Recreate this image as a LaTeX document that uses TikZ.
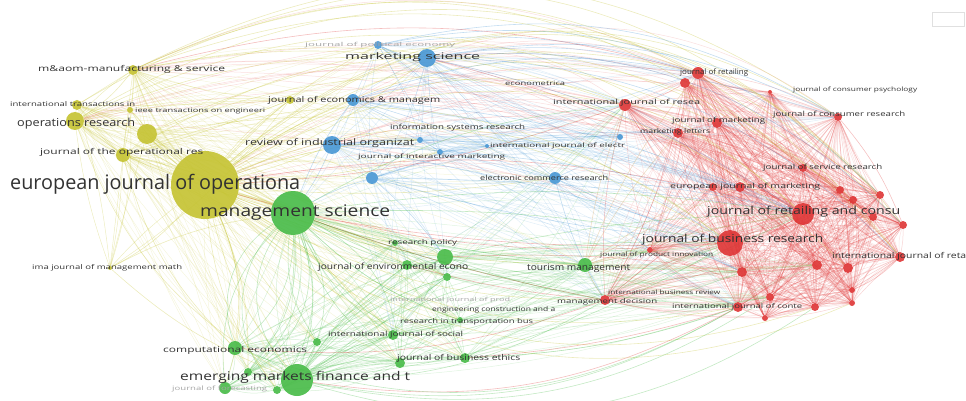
\documentclass[tikz,border=0pt]{standalone}
\usepackage{fontspec}
\usepackage{graphicx}
\setmainfont{Open Sans}
\definecolor{cy}{RGB}{196,194,48}
\definecolor{cb}{RGB}{70,150,212}
\definecolor{cr}{RGB}{222,52,52}
\definecolor{cg}{RGB}{70,186,70}
\definecolor{co}{RGB}{205,160,85}
\definecolor{txt}{RGB}{50,50,50}
\definecolor{ftxt}{RGB}{165,165,165}
\pgfdeclarelayer{bg}
\pgfsetlayers{bg,main}
\begin{document}
\begin{tikzpicture}[x=1pt,y=-1pt,
  dot/.style={circle,inner sep=0pt,draw=none,fill opacity=.9},
  lbl/.style={anchor=west,inner sep=0pt},
  e/.style={line width=.6pt,draw opacity=.32},
  em/.style={line width=.5pt,draw opacity=.16}]
\useasboundingbox (0,0) rectangle (966,401);
% ---------------- nodes
\foreach \n/\x/\y/\r in {Y1/205/185/34,Y2/133/70/5,Y3/77/105/5,Y4/130/110/3,Y5/75/121/9,Y6/147/134/10,Y7/123/155/7,Y8/290/100/4,Y9/110/268/2}
  \node[dot,fill=cy,minimum size=2pt*\r] (\n) at (\x,\y) {};
\foreach \n/\x/\y/\r in {B1/427/58/9,B2/378/45/4,B3/353/100/6,B4/332/145/9,B5/372/178/6,B6/555/178/6,B7/420/140/3,B8/620/137/3,B9/440/152/3,B10/487/146/2}
  \node[dot,fill=cb,minimum size=2pt*\r] (\n) at (\x,\y) {};
\foreach \n/\x/\y/\r in {R1/698/73/6,R2/685/83/5,R3/625/105/6,R4/717/123/5,R5/678/133/5,R6/838/117/4,R7/803/168/4,R8/740/187/5,R9/803/214/11,R10/730/243/13,R11/900/257/5,R12/605/300/5,R13/738/307/5,R14/903/225/4,R15/817/265/5,R16/848/268/5,R17/742/272/5,R18/770/297/4,R19/815/307/4,R20/852/290/3,R21/852/303/3,R22/840/190/4,R23/853/200/4,R24/880/195/4,R25/873/217/4,R26/713/187/4,R27/765/318/3,R28/650/250/3,R29/770/92/2}
  \node[dot,fill=cr,minimum size=2pt*\r] (\n) at (\x,\y) {};
\foreach \n/\x/\y/\r in {G1/293/213/22,G2/445/257/8,G3/407/265/5,G4/585/265/7,G5/235/348/7,G6/297/380/16,G7/225/388/6,G8/277/390/4,G9/248/372/4,G10/317/342/4,G11/393/335/5,G12/465/358/5,G13/400/363/5,G14/447/277/4,G15/395/243/3,G16/460/320/3}
  \node[dot,fill=cg,minimum size=2pt*\r] (\n) at (\x,\y) {};
\node[draw=black!12,line width=.6pt,minimum width=32pt,minimum height=14pt,inner sep=0pt] (logo) at (948,19) {};
% ---------------- edges
\begin{pgfonlayer}{bg}
% dense red cluster
\foreach \i in {1,...,29}{\foreach \j in {1,...,29}{\ifnum\j>\i
  \pgfmathtruncatemacro\bb{mod(\i*7+\j*11,25)-12}
  \pgfmathtruncatemacro\bc{mod(\i*13+\j*5,31)-15}
  \draw[em,cr,draw opacity=.22] (R\i) to[bend left=\bb] (R\j);
  \draw[em,cr,draw opacity=.14] (R\i) to[bend left=\bc] (R\j);\fi}}
% dense green cluster
\foreach \i in {1,...,16}{\foreach \j in {1,...,16}{\ifnum\j>\i
  \pgfmathtruncatemacro\bb{mod(\i*5+\j*13,41)-20}
  \draw[em,cg,draw opacity=.22] (G\i) to[bend left=\bb] (G\j);\fi}}
% yellow cluster
\foreach \i in {1,...,9}{\foreach \j in {1,...,9}{\ifnum\j>\i
  \pgfmathtruncatemacro\bb{mod(\i*5+\j*7,21)-10}
  \draw[em,cy,draw opacity=.3] (Y\i) to[bend left=\bb] (Y\j);\fi}}
% blue cluster
\foreach \i in {1,...,10}{\foreach \j in {1,...,10}{\ifnum\j>\i
  \pgfmathtruncatemacro\bb{mod(\i*5+\j*7,21)-10}
  \draw[em,cb,draw opacity=.22] (B\i) to[bend left=\bb] (B\j);\fi}}
% cross links
\foreach \s [count=\i] in {B1,B3,B4,B5,B6,B7,B9,B2}{\foreach \t [count=\j] in {R1,R3,R5,R8,R9,R10,R12,R13,R17,R26,R28,R6}{
  \pgfmathtruncatemacro\bb{mod(\i*7+\j*5,25)-8}
  \draw[em,cb] (\s) to[bend left=\bb] (\t);}}
\foreach \s [count=\i] in {G1,G2,G3,G4,G11,G12,G14,G16,G6}{\foreach \t [count=\j] in {R3,R9,R10,R12,R13,R17,R18,R28,R15}{
  \pgfmathtruncatemacro\bb{mod(\i*7+\j*5,21)-12}
  \draw[em,cg] (\s) to[bend left=\bb] (\t);}}
\foreach \s [count=\i] in {Y1,Y2,Y5,Y6,Y7,Y3}{\foreach \t [count=\j] in {G1,G2,G3,G4,G5,G6,G7,G8,G9,G10,G11,G12,G13,G14,G15,G16}{
  \pgfmathtruncatemacro\bb{mod(\i*7+\j*9,31)-15}
  \draw[em,cy] (\s) to[bend left=\bb] (\t);}}
\foreach \s [count=\i] in {Y1,Y2,Y5,Y6,Y7,Y8}{\foreach \t [count=\j] in {B1,B2,B3,B4,B5,B6,B7,B9}{
  \pgfmathtruncatemacro\bb{mod(\i*7+\j*9,25)-12}
  \draw[em,cy] (\s) to[bend left=\bb] (\t);}}
\foreach \s [count=\i] in {B1,B3,B4,B5,B6}{\foreach \t [count=\j] in {G1,G2,G3,G4,G11,G14}{
  \pgfmathtruncatemacro\bb{mod(\i*7+\j*9,25)-12}
  \draw[em,cb] (\s) to[bend left=\bb] (\t);}}
% red arcs over the top toward the left clusters
\foreach \s [count=\i] in {R1,R3,R6,R9,R10,R24,R14}{\foreach \t [count=\j] in {Y1,Y2,Y5,B1,B3,B4}{
  \pgfmathtruncatemacro\bb{-(mod(\i*5+\j*7,22)+6)}
  \draw[em,cr] (\s) to[bend left=\bb] (\t);}}
% named hub edges
\foreach \t/\b in {Y2/10,Y3/-10,Y4/8,Y5/-6,Y6/5,Y7/-8,Y8/6,Y9/10,G1/4,G2/-8,G3/6,G4/-10,G5/15,G6/-12,G7/20,G8/-15,G9/12,G10/-6,G11/8,G12/-10,G13/14,G14/5,G15/-5,G16/-8,B1/-8,B2/10,B3/6,B4/-4,B5/5,B6/-6,B7/8,B9/-5}
  \draw[e,cy] (Y1) to[bend left=\b] (\t);
\foreach \s/\t/\b/\l in {Y1/R1/25/1,Y1/R3/20/1,Y1/R6/35/1.05,Y1/R9/38/1.05,Y1/R11/42/1.1,Y1/R14/46/1.1,Y1/R24/44/1.1,Y1/R10/30/1,Y1/R12/-15/1,Y1/R13/-22/1,Y2/R1/20/1,Y2/R6/30/1.05,Y2/R24/34/1.1,Y2/R11/38/1.05,Y5/R9/34/1.05,Y5/R14/38/1.05,Y7/R10/28/1,Y2/B1/8/1,Y5/B1/12/1,Y2/G1/-10/1,Y5/G1/-8/1,Y7/G1/6/1,Y2/Y5/10/1,Y5/Y7/-10/1,Y6/G1/-5/1,Y7/G5/-15/1,Y5/G6/-20/1,Y9/G1/10/1,Y9/G6/-10/1,Y2/R3/15/1,Y6/R10/20/1,Y6/R4/25/1,Y3/R7/36/1.05,Y7/R22/34/1.05,Y6/R16/33/1,Y1/R19/-28/1,Y1/R21/-32/1}
  \draw[e,cy] (\s) to[bend left=\b,looseness=\l] (\t);
\foreach \s/\t/\b in {B1/R1/12,B1/R9/10,B1/R6/18,B4/R9/6,B4/R10/4,B6/R9/5,B6/R10/-5,B6/R12/-8,B3/R1/15,B3/R9/10,B5/R10/-5,B5/R9/4,B3/G1/-8,B5/G1/-6,B4/G1/5,B5/G2/6,B2/R1/12,B2/R6/22,B2/R24/28,B1/R14/25,B1/R11/22}
  \draw[e,cb] (\s) to[bend left=\b] (\t);
\foreach \t/\b in {G2/-10,G3/-8,G4/-6,G5/25,G6/18,G7/35,G8/28,G9/22,G10/-20,G11/-15,G12/-22,G13/-18,G14/-5,G15/-4,G16/-12}
  \draw[e,cg] (G1) to[bend left=\b] (\t);
\foreach \t/\b in {G1/-30,G2/12,G3/10,G4/15,G5/-10,G7/8,G8/5,G9/6,G10/-6,G11/10,G12/8,G13/6,G14/15,G16/10}
  \draw[e,cg] (G6) to[bend left=\b] (\t);
\foreach \s/\t/\b in {G1/G6/-40,G1/G5/-38,G1/G7/-25,G1/G9/40,G1/G8/-45,G1/G13/30,G1/R9/8,G1/R10/6,G1/R12/-4,G1/R13/-8,G1/R3/12,G1/R17/-6,G6/R12/-15,G6/R13/-20,G6/R10/-12,G6/R18/-22,G12/R12/6,G12/R13/-8,G2/R10/4,G2/R12/-5,G2/R9/6,G5/R13/-25,G6/R19/-25}
  \draw[e,cg] (\s) to[bend left=\b] (\t);
\foreach \t/\b in {R3/6,R9/5,R10/4,R12/-5,R13/-6,R17/3,R1/8,R5/6,R8/4,R26/5,R28/3,R15/-3,R18/-6}
  \draw[e,co] (G4) to[bend left=\b] (\t);
\foreach \s/\t/\b in {R3/Y1/8,R10/G1/6,R9/B1/-8,R12/G5/12,R13/G6/18,R1/Y2/-15,R12/G3/5,R13/G12/6,R17/G2/-5,R10/Y1/10,R9/Y1/-12,R12/G1/4}
  \draw[e,cr] (\s) to[bend left=\b] (\t);
\end{pgfonlayer}
% ---------------- labels
\foreach \n/\x/\y/\s/\w/\c/\t in {
 L1/10/184/20/290/txt/european journal of operationa,
 L2/200/213/16/190/txt/management science,
 L3/38/69/8/187/txt/m\&aom-manufacturing \& service,
 L4/10/104/6.5/125/txt/international transactions in,
 L5/135/111/6/130/txt/ieee transactions on engineeri,
 L6/17/124/11/118/txt/operations research,
 L7/40/152/8/163/txt/journal of the operational res,
 L8/268/100/8/172/txt/journal of economics \& managem,
 L9/245/143/9/169/txt/review of industrial organizat,
 L10/345/57/9/135/txt/marketing science,
 L11/305/45/5.5/150/ftxt/journal of political economy,
 L12/505/83/6/60/txt/econometrica,
 L13/390/128/7/135/txt/information systems research,
 L14/490/146/6/135/txt/international journal of electr,
 L15/358/157/6/147/txt/journal of interactive marketing,
 L16/480/178/7/128/txt/electronic commerce research,
 L17/680/73/7.5/68/txt/journal of retailing,
 L18/553/103/7/147/txt/international journal of resea,
 L19/672/121/7/93/txt/journal of marketing,
 L20/640/132/6.5/70/txt/marketing letters,
 L21/793/90/6/124/txt/journal of consumer psychology,
 L22/773/115/7/132/txt/journal of consumer research,
 L23/763/168/7/119/txt/journal of service research,
 L24/670/187/7/150/txt/european journal of marketing,
 L25/707/212/11/193/txt/journal of retailing and consu,
 L26/642/240/11/181/txt/journal of business research,
 L27/600/255/6/113/txt/journal of product innovation,
 L28/832/256/8/134/txt/international journal of reta,
 L29/608/292/6/112/txt/international business review,
 L30/557/302/6.5/100/txt/management decision,
 L31/672/307/6.5/130/txt/international journal of conte,
 L32/527/268/9/103/txt/tourism management,
 L33/318/267/8.5/150/txt/journal of environmental econo,
 L34/388/243/6.5/69/txt/research policy,
 L35/390/300/5.5/120/ftxt/international journal of prod,
 L36/432/310/6.5/123/txt/engineering construction and a,
 L37/400/322/6.5/133/txt/research in transportation bus,
 L38/328/335/7/135/txt/international journal of social,
 L39/163/350/8/144/txt/computational economics,
 L40/397/358/8/123/txt/journal of business ethics,
 L41/180/377/12/230/txt/emerging markets finance and t,
 L42/172/389/6/95/ftxt/journal of forecasting,
 L43/32/268/6.5/150/txt/ima journal of management math}
 \node[lbl,text=\c] (\n) at (\x,\y) {\resizebox{\w pt}{\height}{\fontsize{\s}{\s}\selectfont \t}};
\end{tikzpicture}
\end{document}
